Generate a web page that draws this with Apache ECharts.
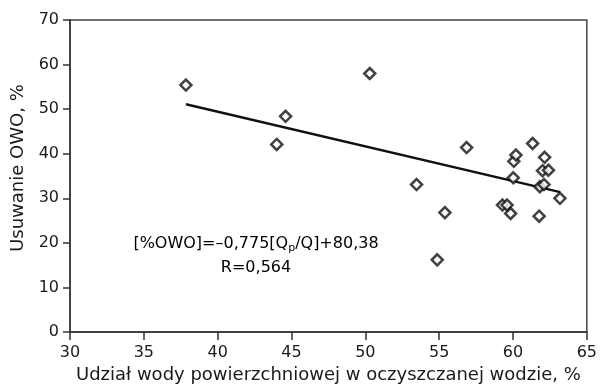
<!DOCTYPE html>
<html>

<head>
    <meta charset="UTF-8">
    <script src="https://cdn.jsdelivr.net/npm/echarts@6/dist/echarts.min.js"></script>
    <title>Usuwanie OWO</title>
    <style>
        html, body {
            margin: 0;
            padding: 0;
            background: #fff;
        }

        #chart {
            width: 600px;
            height: 389px;
        }
    </style>
</head>

<body>
    <div id="chart"></div>
</body>

</html>
<script>
    // udział wody powierzchniowej, %
    var udzial = [37.85, 44.6, 44.0, 50.3, 53.47, 54.87, 55.39, 56.86, 59.29, 59.6, 59.84,
        60.02, 60.06, 60.2, 61.33, 61.77, 61.82, 62.0, 62.1, 62.14, 62.4, 63.18];
    // usuwanie OWO, %
    var usuwanie = [55.4, 48.4, 42.1, 58.0, 33.1, 16.2, 26.8, 41.4, 28.5, 28.5, 26.6,
        34.6, 38.3, 39.7, 42.3, 26.0, 32.6, 36.2, 33.1, 39.2, 36.3, 30.0];
    // linia regresji (końce)
    var trendX = [37.85, 63.2];
    var trendY = [51.1, 31.4];

    var xTicks = [30, 35, 40, 45, 50, 55, 60, 65];
    var yTicks = [0, 10, 20, 30, 40, 50, 60, 70];

    var font = 'DejaVu Sans';

    var pts = [];
    for (var i = 0; i < udzial.length; i++) {
        pts.push([udzial[i], usuwanie[i]]);
    }
    var trend = [];
    for (var j = 0; j < trendX.length; j++) {
        trend.push([trendX[j], trendY[j]]);
    }

    var chart = echarts.init(document.getElementById('chart'));

    var option = {
        animation: false,
        grid: {
            left: 70,
            right: 12,
            top: 20,
            bottom: 53,
            show: true,
            borderColor: '#444',
            borderWidth: 1.5
        },
        xAxis: {
            type: 'value',
            min: xTicks[0],
            max: xTicks[xTicks.length - 1],
            interval: 5,
            name: 'Udział wody powierzchniowej w oczyszczanej wodzie, %',
            nameLocation: 'middle',
            nameGap: 32,
            nameTextStyle: { fontFamily: font, fontSize: 18, color: '#1a1a1a' },
            axisLine: { lineStyle: { color: '#333', width: 1.5 } },
            axisTick: { inside: false, length: 8, lineStyle: { color: '#333', width: 1.5 } },
            axisLabel: { fontFamily: font, fontSize: 16, color: '#1a1a1a', margin: 13 },
            splitLine: { show: false }
        },
        yAxis: {
            type: 'value',
            min: yTicks[0],
            max: yTicks[yTicks.length - 1],
            interval: 10,
            name: 'Usuwanie OWO, %',
            nameLocation: 'middle',
            nameGap: 40,
            nameTextStyle: { fontFamily: font, fontSize: 18, color: '#1a1a1a', padding: [0, 0, 0, 16] },
            axisLine: { show: true, lineStyle: { color: '#333', width: 1.5 } },
            axisTick: { show: true, inside: false, length: 7, lineStyle: { color: '#333', width: 1.5 } },
            axisLabel: { fontFamily: font, fontSize: 16, color: '#1a1a1a', margin: 11 },
            splitLine: { show: false }
        },
        graphic: [{
            type: 'text',
            x: 256,
            y: 232,
            style: {
                text: '{a|[%OWO]=–0,775[Q}{s|p}{a|/Q]+80,38}\n{a|R=0,564}',
                align: 'center',
                verticalAlign: 'top',
                rich: {
                    a: { fontFamily: font, fontSize: 16, color: '#1a1a1a', lineHeight: 24, align: 'center' },
                    s: { fontFamily: font, fontSize: 11, color: '#1a1a1a', lineHeight: 24, align: 'center', padding: [8, 0, 0, 0] }
                }
            }
        }],
        series: [{
            type: 'line',
            data: trend,
            symbol: 'none',
            lineStyle: { color: '#111', width: 2.5 },
            z: 2
        }, {
            type: 'scatter',
            data: pts,
            symbol: 'diamond',
            symbolSize: 11,
            itemStyle: { color: '#fff', borderColor: '#111', borderWidth: 2.5 },
            z: 3
        }]
    };

    chart.setOption(option);
</script>
